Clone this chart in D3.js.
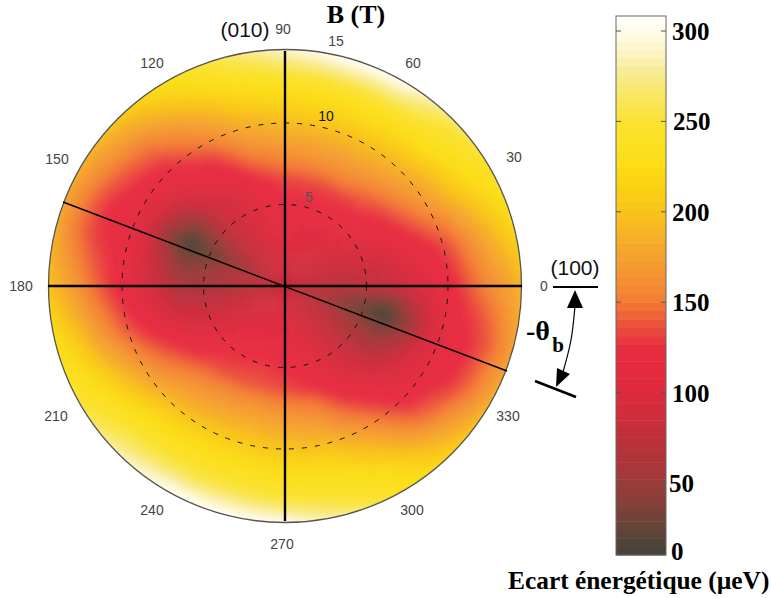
<!DOCTYPE html>
<html><head><meta charset="utf-8">
<script src="https://d3js.org/d3.v7.min.js"></script>
<style>html,body{margin:0;padding:0;background:#fff}svg{display:block}</style>
</head><body><div id="c"></div>
<script>
// Data
const fieldsT = [0,1.5,3,4.5,6.4,7.5,9,10.5,12,13,14,14.8];
const anglesDeg = [0,15,30,45,60,75,90,105,120,135,147,156,165,180,195,210,225,240,255,270,285,300,315,330,338,344,352];
const gapRows = [
 [80,76,72,72,80,92,105,125,150,165,180,195],
 [80,80,80,85,96,106,122,140,170,190,210,225],
 [80,84,88,96,112,126,150,175,205,222,235,245],
 [82,86,96,110,128,142,170,195,225,240,252,272],
 [82,90,102,116,132,155,180,205,232,255,288,310],
 [82,92,104,118,132,155,180,205,232,255,290,310],
 [85,94,106,118,132,152,178,203,228,250,278,300],
 [85,92,100,106,118,138,165,190,218,235,252,270],
 [85,88,90,92,98,110,132,160,185,205,222,232],
 [85,85,82,78,82,95,112,128,150,170,190,210],
 [82,78,65,52,35,60,100,118,138,155,175,195],
 [82,72,52,30,4,35,92,116,128,145,165,185],
 [82,78,65,48,32,58,100,120,130,145,165,190],
 [80,76,70,62,62,80,102,125,150,170,190,205],
 [80,82,80,80,85,100,122,145,175,200,220,232],
 [80,85,90,96,106,128,150,178,210,230,242,252],
 [85,90,100,112,132,150,175,205,235,252,272,290],
 [85,94,106,120,138,160,185,215,240,258,290,310],
 [88,96,108,124,140,165,190,215,240,258,290,310],
 [88,96,108,120,136,160,185,210,235,250,282,310],
 [85,90,100,112,126,150,175,205,230,242,258,285],
 [85,87,92,98,105,118,145,175,205,222,232,238],
 [82,80,80,78,85,95,110,128,155,180,200,218],
 [82,80,72,58,50,72,100,116,130,148,170,195],
 [80,76,60,42,26,50,90,112,128,145,165,185],
 [80,72,52,28,2,35,88,115,128,140,160,180],
 [80,74,60,48,34,58,96,120,135,150,170,190]
];
const colorStops = [0,12,25,37,50,62,75,87,100,112,125,135,150,162,175,187,200,212,225,237,250,262,275,287,300,308];
const colorValues = ["#45423a","#574438","#6f4338","#853f39","#9c3b3a","#ad353a","#bd303b","#cf2c3c","#dc2a3e","#e42a3f","#e82c40","#ea4a3e","#f37a35","#f48f33","#f5a02f","#f6b026","#f9c31a","#fad012","#fcdc14","#fbe020","#fae232","#f9e65a","#f8ea88","#fbf3c0","#fffce8","#ffffff"];
const barTicks = [50,100,150,200,250,300];
const barLabels = ["0","50","100","150","200","250","300"];
const angleLabels = ["0","15","60","30","90","120","150","180","210","240","270","300","330"];
const circleFields = [5,10];

const W=771,H=598,cx=285,cy=286;
const svg=d3.select("#c").append("svg").attr("width",W).attr("height",H);
const defs=svg.append("defs");
const rScale=d3.scaleLinear().domain([0,10]).range([0,163]);
const rimR=236.5;
const color=d3.scaleLinear().domain(colorStops).range(colorValues).interpolate(d3.interpolateRgb).clamp(true);
defs.append("clipPath").attr("id","disc").append("circle").attr("cx",cx).attr("cy",cy).attr("r",rimR);
defs.append("filter").attr("id","soft").attr("x","-5%").attr("y","-5%").attr("width","110%").attr("height","110%")
  .append("feGaussianBlur").attr("stdDeviation",3);

const angleIdx=d3.scaleLinear().domain(anglesDeg.concat(360)).range(d3.range(anglesDeg.length+1));
const fieldIdx=d3.scaleLinear().domain(fieldsT).range(d3.range(fieldsT.length)).clamp(true);
function gap(a,b){
  const ai=angleIdx(a),fi=fieldIdx(b);
  const a0=Math.floor(ai),a1=(a0+1)%anglesDeg.length,f0=Math.min(Math.floor(fi),fieldsT.length-2),f1=f0+1;
  const ta=ai-a0,tf=fi-f0;
  const top=d3.interpolateNumber(gapRows[a0][f0],gapRows[a0][f1])(tf);
  const bot=d3.interpolateNumber(gapRows[a1][f0],gapRows[a1][f1])(tf);
  return d3.interpolateNumber(top,bot)(ta);
}
const arc=d3.arc();
const heat=svg.append("g").attr("clip-path","url(#disc)").append("g").attr("filter","url(#soft)").attr("transform",`translate(${cx},${cy})`);
const cells=[];
const dA=2.5,dB=0.25;
d3.range(0,360,dA).forEach(a=>d3.range(0,15.25,dB).forEach(b=>cells.push({a,b})));
heat.selectAll("path").data(cells).join("path")
  .attr("d",d=>arc({innerRadius:rScale(d.b),outerRadius:rScale(d.b+dB),
     startAngle:(90-d.a-dA)*Math.PI/180,endAngle:(90-d.a)*Math.PI/180}))
  .attr("fill",d=>color(gap(d.a+dA/2,d.b+dB/2)))
  .attr("stroke",d=>color(gap(d.a+dA/2,d.b+dB/2))).attr("stroke-width",0.6);

// rim, circles, axes
svg.append("circle").attr("cx",cx).attr("cy",cy).attr("r",rimR).attr("fill","none").attr("stroke","#555").attr("stroke-width",1.3);
svg.selectAll(".ring").data(circleFields).join("circle").attr("class","ring")
  .attr("cx",cx).attr("cy",cy).attr("r",d=>rScale(d)).attr("fill","none").attr("stroke","#111").attr("stroke-width",1).attr("stroke-dasharray","5 8");
const ln=(x1,y1,x2,y2,w,c)=>svg.append("line").attr("x1",x1).attr("y1",y1).attr("x2",x2).attr("y2",y2).attr("stroke",c||"#000").attr("stroke-width",w);
ln(48,286,522,286,2.6);
ln(285,51,285,521,2.4);
ln(63,202,507,371,1.5);
ln(553,287,598,287,2.2);
ln(535,381,576,397,2.5);

// angle labels
const labelPos={"0":[544,286],"15":[336,41],"60":[413,63],"30":[514,157],"90":[283,29],"120":[152,63],"150":[57,159],"180":[21,286],"210":[56,416],"240":[152,510],"270":[282,544],"300":[412,510],"330":[508,416]};
svg.selectAll(".ang").data(angleLabels).join("text").attr("class","ang")
  .attr("x",d=>labelPos[d][0]).attr("y",d=>labelPos[d][1]).attr("text-anchor","middle").attr("dominant-baseline","central")
  .attr("font-family","Liberation Sans").attr("font-size",14).attr("fill","#444").text(d=>d);
const ringLabelPos={5:[309,197],10:[326,116]};
svg.selectAll(".rl").data(circleFields).join("text").attr("class","rl")
  .attr("x",d=>ringLabelPos[d][0]).attr("y",d=>ringLabelPos[d][1]).attr("text-anchor","middle").attr("dominant-baseline","central")
  .attr("font-family","Liberation Sans").attr("font-size",14).attr("fill",d=>d==5?"#555":"#111").text(d=>d);
const sans=(t,x,y,s)=>svg.append("text").attr("x",x).attr("y",y).attr("text-anchor","middle").attr("dominant-baseline","central").attr("font-family","Liberation Sans").attr("font-size",s).attr("fill","#111").text(t);
const serif=(t,x,y,s,anchor)=>svg.append("text").attr("x",x).attr("y",y).attr("text-anchor",anchor||"middle").attr("font-family","Liberation Serif").attr("font-weight","bold").attr("font-size",s).attr("fill","#000").text(t);
sans("(010)",245,29,21);
sans("(100)",575,267,21);
serif("B (T)",356,23,26);
serif("-θ",538,340,28);
serif("b",558,352,21);

// angle arrow
svg.append("path").attr("d",d3.line().curve(d3.curveNatural)([[575,306],[571,340],[563,372]])).attr("fill","none").attr("stroke","#000").attr("stroke-width",1.2);
svg.append("path").attr("d","M575,290L567,308L583,308Z").attr("fill","#000");
svg.append("path").attr("d","M556,387L557,368L570,374Z").attr("fill","#000");

// colour bar
const barY=d3.scaleLinear().domain([0,50,300,308.4]).range([555,483,31,16]);
const levels=d3.range(64);
const bx=616,bw=50,bh=539;
const g=svg.append("g");
const lev=d3.scaleLinear().domain([0,64]).range([555,16]);
g.selectAll("rect").data(levels).join("rect")
  .attr("x",bx).attr("width",bw).attr("y",d=>lev(d+1)).attr("height",d=>lev(d)-lev(d+1)+0.5)
  .attr("fill",d=>color(barY.invert((lev(d)+lev(d+1))/2)));
g.append("rect").attr("x",bx).attr("y",16).attr("width",bw).attr("height",bh).attr("fill","none").attr("stroke","#666").attr("stroke-width",1);
g.selectAll(".t").data(barTicks).join("path").attr("class","t")
  .attr("d",d=>`M${bx},${barY(d)}h5M${bx+bw},${barY(d)}h-5`).attr("stroke","#555").attr("stroke-width",1).attr("fill","none");
const labelX={"0":671,"50":669,"100":672,"150":672,"200":672,"250":673,"300":672};
svg.selectAll(".bl").data(barLabels).join("text").attr("class","bl")
  .attr("x",d=>labelX[d]).attr("y",d=>(d==="0"?551:barY(+d))+9)
  .attr("font-family","Liberation Serif").attr("font-weight","bold").attr("font-size",25).attr("fill","#000").text(d=>d);
serif("Ecart énergétique (µeV)",508,589,25.4,"start");
</script></body></html>
